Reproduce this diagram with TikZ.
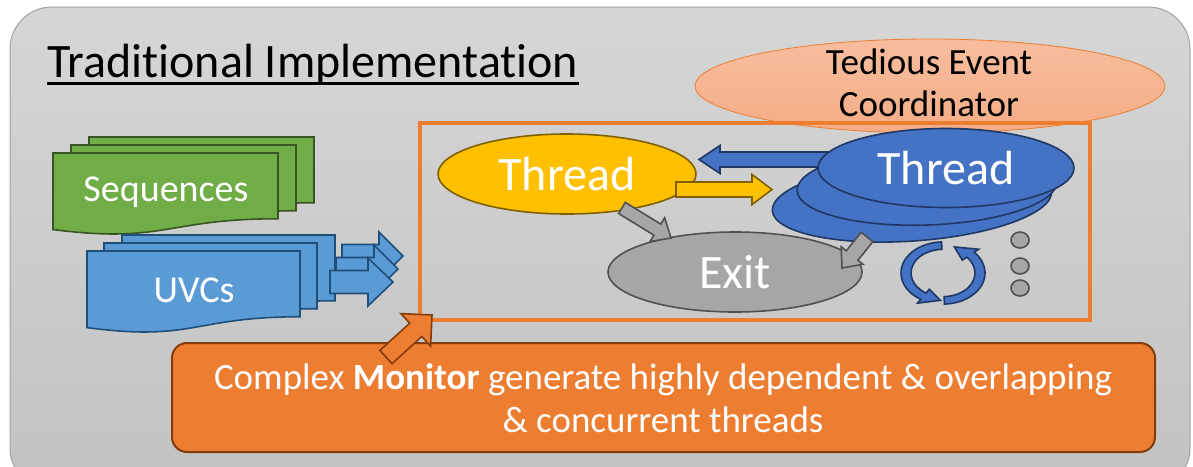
\documentclass[tikz,border=0pt]{standalone}
\usepackage{fontspec}
\setmainfont{Carlito}[Ligatures=NoCommon]
\usetikzlibrary{shapes.geometric,calc}

\definecolor{bgtop}{HTML}{D6D6D6}
\definecolor{bgbot}{HTML}{C2C2C2}
\definecolor{bgline}{HTML}{A0A0A0}
\definecolor{salmonA}{HTML}{F8BD9E}
\definecolor{salmonB}{HTML}{F4AD86}
\definecolor{orangeA}{HTML}{ED7D31}
\definecolor{brownA}{HTML}{843C0C}
\definecolor{yelfill}{HTML}{FFC000}
\definecolor{yelline}{HTML}{7F6000}
\definecolor{bluefill}{HTML}{4472C4}
\definecolor{blueline}{HTML}{1F3864}
\definecolor{greyfill}{HTML}{A6A6A6}
\definecolor{greyline}{HTML}{505050}
\definecolor{greenfill}{HTML}{70AD47}
\definecolor{greenline}{HTML}{375623}
\definecolor{skyfill}{HTML}{5B9BD5}
\definecolor{skyline}{HTML}{1F4E79}

% block arrow between two named points: [style]{tail}{tip}{shaft half}{head half}{head length}
\newcommand{\blockarrow}[6][]{%
  \path ($(#3)!#6!(#2)$) coordinate (bahead);
  \draw[#1] ($(#2)!#4!90:(#3)$) -- ($(bahead)!#4!90:(#3)$) -- ($(bahead)!#5!90:(#3)$)
    -- (#3) -- ($(bahead)!#5!-90:(#3)$) -- ($(bahead)!#4!-90:(#3)$)
    -- ($(#2)!#4!-90:(#3)$) -- cycle;}

% page with a wavy lower edge: [style]{left}{top}{width}{height}
\newcommand{\docpage}[5][]{%
  \draw[#1] (#2,#3) -- ({#2+#4},#3) -- ({#2+#4},{#3+0.802*#5})
    .. controls ({#2+0.5*#4},{#3+0.802*#5}) and ({#2+0.5*#4},{#3+1.108*#5})
    .. (#2,{#3+0.934*#5}) -- cycle;}

% curved ribbon arrow in a local frame: [style]{start angle}{end angle}{tip angle}
\newcommand{\ringarrow}[4][]{%
  \draw[#1] (#2:42) arc[start angle=#2, end angle=#3, radius=42]
    -- (#3:48) -- (#4:37) -- (#3:26) -- (#3:32)
    arc[start angle=#3, end angle=#2, radius=32] -- cycle;}

\begin{document}
\begin{tikzpicture}[x=1pt,y=-1pt,
  oval/.style={ellipse, inner sep=0pt},
  bluethread/.style={oval, fill=bluefill, draw=blueline, line width=1.6pt},
  greyarrow/.style={fill=greyfill, draw=greyline, line width=1.6pt, line join=miter},
  skyarrow/.style={fill=skyfill, draw=skyline, line width=1.6pt},
  greendoc/.style={fill=greenfill, draw=greenline, line width=1.6pt},
  skydoc/.style={fill=skyfill, draw=skyline, line width=1.6pt},
  whitelabel/.style={text=white, inner sep=0pt},
  bigfont/.style={font=\fontsize{48}{57}\selectfont},
  midfont/.style={font=\fontsize{37}{42.5}\selectfont},
  docfont/.style={font=\fontsize{38}{45}\selectfont},
]
\useasboundingbox (0,0) rectangle (1193,466);

% backdrop panel
\begin{scope}
  \clip (0,0) rectangle (1193,466);
  \path[top color=bgtop, bottom color=bgbot, draw=bgline, line width=1pt,
        rounded corners=42pt] (10,7) rectangle (1190,490);
\end{scope}

% heading
\node[anchor=base west, inner sep=0pt, bigfont] (title) at (47,77) {Traditional Implementation};
\draw[line width=2.2pt] ($(title.base west)+(0,6.5)$) -- ($(title.base east)+(0,6.5)$);

% event coordinator
\node[oval, top color=salmonA, bottom color=salmonB, draw=orangeA, line width=0.8pt,
      minimum width=470pt, minimum height=94pt] (coord) at (930,86) {};
\node[align=center, inner sep=0pt, midfont] (coordtext) at (929,83) {Tedious Event\\Coordinator};

% monitor frame
\node[draw=orangeA, line width=4pt, minimum width=670pt, minimum height=197pt,
      inner sep=0pt] (frame) at (755,221.5) {};

% threads
\node[oval, fill=yelfill, draw=yelline, line width=1.6pt, minimum width=258pt,
      minimum height=80pt, whitelabel, bigfont] (ythread) at (567,174) {Thread};
\node[bluethread, minimum width=280pt, minimum height=80pt, rotate=4] (bthree) at (912,201) {};
\node[bluethread, minimum width=260pt, minimum height=78pt, rotate=2] (btwo) at (927,186) {};
\coordinate (blA) at (845,159.5);
\coordinate (blB) at (699,159.5);
\blockarrow[skyarrow, fill=bluefill, draw=blueline]{blA}{blB}{7.5pt}{14pt}{21pt}
\node[bluethread, minimum width=256pt, minimum height=79pt, whitelabel, bigfont] (bone) at (946,168) {Thread};
\coordinate (yaA) at (676,189.5);
\coordinate (yaB) at (772,189.5);
\blockarrow[fill=yelfill, draw=yelline, line width=1.6pt]{yaA}{yaB}{7.5pt}{15pt}{20pt}

% exit
\node[oval, fill=greyfill, draw=greyline, line width=1.6pt, minimum width=254pt,
      minimum height=80pt, whitelabel, bigfont] (exit) at (735,272) {Exit};
\coordinate (gaA) at (622,208);
\coordinate (gaB) at (671,238);
\blockarrow[greyarrow]{gaA}{gaB}{6.5pt}{14pt}{16pt}
\coordinate (gbA) at (867,237);
\coordinate (gbB) at (842,268);
\blockarrow[greyarrow]{gbA}{gbB}{7.5pt}{14pt}{16pt}

% cycle symbol
\begin{scope}[shift={(943,273)}, yscale=-0.74]
  \ringarrow[fill=bluefill, draw=blueline, line width=1.6pt]{92}{238}{266}
  \ringarrow[fill=bluefill, draw=blueline, line width=1.6pt]{-88}{42}{72}
\end{scope}

% ellipsis dots
\foreach \yy/\nm in {240/dotA, 266/dotB, 288/dotC}
  \node[oval, fill=greyfill, draw=greyline, line width=1.6pt, minimum width=18pt,
        minimum height=16pt] (\nm) at (1020,\yy) {};

% sequences stack
\docpage[greendoc]{89}{137}{225}{82}
\docpage[greendoc]{71}{145}{225}{82}
\docpage[greendoc]{53}{153}{225}{82}
\node[whitelabel, docfont] (seq) at (166,192) {Sequences};

% UVC stack
\docpage[skydoc]{122}{235}{213}{82}
\docpage[skydoc]{104}{243}{213}{82}
\docpage[skydoc]{87}{251}{213}{82}
\node[whitelabel, docfont] (uvc) at (194,290) {UVCs};

% UVC outputs
\coordinate (uaA) at (342,256);  \coordinate (uaB) at (403,256);
\coordinate (ubA) at (336,269);  \coordinate (ubB) at (398,269);
\coordinate (ucA) at (330,282);  \coordinate (ucB) at (393,282);
\blockarrow[skyarrow]{uaA}{uaB}{11.5pt}{24pt}{24pt}
\blockarrow[skyarrow]{ubA}{ubB}{11.5pt}{24pt}{24pt}
\blockarrow[skyarrow]{ucA}{ucB}{11.5pt}{24pt}{25pt}

% monitor caption
\node[fill=orangeA, draw=brownA, line width=2pt, rounded corners=15pt,
      minimum width=983pt, minimum height=109pt, inner sep=0pt] (monbox) at (663.5,397.5) {};
\node[align=center, whitelabel, midfont] (montext) at (663,398)
  {Complex \textbf{Monitor} generate highly dependent \& overlapping\\\& concurrent threads};
\coordinate (oaA) at (386,357);
\coordinate (oaB) at (432,315);
\blockarrow[fill=orangeA, draw=brownA, line width=1.6pt]{oaA}{oaB}{9pt}{22pt}{22pt}
\end{tikzpicture}
\end{document}
